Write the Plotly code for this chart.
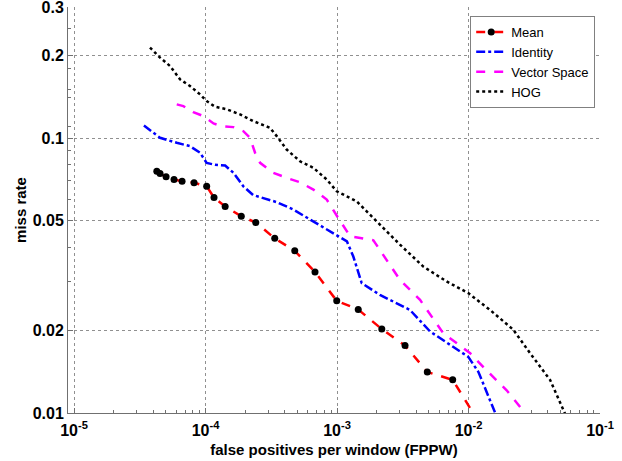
import plotly.graph_objects as go

# false positives per window / miss rate
mean_fppw = [4.26e-5, 4.51e-5, 5.01e-5, 5.76e-5, 6.63e-5, 8.18e-5, 1.02e-4, 1.16e-4, 1.41e-4,
             1.87e-4, 2.41e-4, 3.36e-4, 4.77e-4, 6.80e-4, 9.95e-4, 1.45e-3, 2.19e-3, 3.29e-3,
             4.86e-3, 7.58e-3, 1.22e-2]
mean_miss = [0.0758, 0.0743, 0.0723, 0.0707, 0.0697, 0.0688, 0.0668, 0.0608, 0.0564,
             0.0520, 0.0493, 0.0432, 0.0389, 0.0326, 0.0256, 0.0238, 0.0202, 0.0176,
             0.0141, 0.0132, 0.00912]

identity_fppw = [3.40e-5, 4.51e-5, 6.04e-5, 7.62e-5, 9.08e-5, 1.02e-4, 1.18e-4, 1.41e-4, 1.63e-4,
                 1.94e-4, 2.30e-4, 2.75e-4, 3.48e-4, 4.65e-4, 6.23e-4, 9.37e-4, 1.19e-3, 1.33e-3,
                 1.54e-3, 2.12e-3, 3.59e-3, 5.10e-3, 6.82e-3, 9.96e-3, 1.19e-2, 1.59e-2, 1.74e-2]
identity_miss = [0.1112, 0.1003, 0.0962, 0.0935, 0.0885, 0.0813, 0.0800, 0.0795, 0.0748,
                 0.0668, 0.0621, 0.0606, 0.0585, 0.0550, 0.0507, 0.0452, 0.0421, 0.0371,
                 0.0297, 0.0269, 0.0237, 0.0198, 0.0180, 0.0160, 0.0141, 0.0100, 0.00904]

vector_fppw = [6.04e-5, 6.78e-5, 8.07e-5, 9.62e-5, 1.15e-4, 1.33e-4, 1.63e-4, 1.94e-4, 2.18e-4,
               2.38e-4, 2.60e-4, 3.28e-4, 4.14e-4, 5.23e-4, 6.61e-4, 8.35e-4, 1.02e-3, 1.26e-3,
               1.89e-3, 2.25e-3, 3.01e-3, 4.28e-3, 6.43e-3, 1.03e-2, 1.37e-2, 1.95e-2, 2.69e-2,
               3.04e-2]
vector_miss = [0.1327, 0.1308, 0.1244, 0.1203, 0.1131, 0.1106, 0.1097, 0.1060, 0.1003,
               0.0885, 0.0813, 0.0748, 0.0717, 0.0691, 0.0650, 0.0598, 0.0513, 0.0439,
               0.0425, 0.0374, 0.0305, 0.0258, 0.0195, 0.0165, 0.0143, 0.0121, 0.0100,
               0.00904]

hog_fppw = [3.78e-5, 4.51e-5, 5.37e-5, 6.40e-5, 7.62e-5, 9.08e-5, 1.02e-4, 1.18e-4, 1.45e-4,
            1.83e-4, 2.31e-4, 3.09e-4, 3.48e-4, 4.14e-4, 5.23e-4, 6.61e-4, 8.35e-4, 9.95e-4,
            1.41e-3, 2.00e-3, 3.01e-3, 4.53e-3, 6.82e-3, 9.96e-3, 1.46e-2, 2.19e-2, 2.94e-2,
            4.17e-2, 5.42e-2, 5.92e-2]
hog_miss = [0.2136, 0.1964, 0.1830, 0.1637, 0.1547, 0.1443, 0.1364, 0.1302, 0.1273,
            0.1220, 0.1153, 0.1091, 0.1017, 0.0909, 0.0824, 0.0780, 0.0707, 0.0641,
            0.0589, 0.0497, 0.0410, 0.0341, 0.0301, 0.0273, 0.0237, 0.0201, 0.0165,
            0.0132, 0.0100, 0.00904]

x_ticks = [1e-5, 1e-4, 1e-3, 1e-2, 1e-1]
x_ticktext = ['10<sup>-5</sup>', '10<sup>-4</sup>', '10<sup>-3</sup>', '10<sup>-2</sup>', '10<sup>-1</sup>']
y_ticks = [0.01, 0.02, 0.05, 0.1, 0.2, 0.3]
y_ticktext = ['0.01', '0.02', '0.05', '0.1', '0.2', '0.3']

x_minor = [m * d for d in x_ticks[:-1] for m in range(2, 10)]
y_minor = [0.03, 0.04, 0.06, 0.07, 0.08, 0.09, 0.11, 0.14, 0.15, 0.18, 0.25]

fnt = 'Liberation Sans, Arial, sans-serif'

fig = go.Figure()
fig.add_trace(go.Scatter(x=mean_fppw, y=mean_miss, name='Mean', mode='lines+markers',
                         line=dict(color='#ff0000', width=2.5, dash='dash'),
                         marker=dict(color='black', size=7)))
fig.add_trace(go.Scatter(x=identity_fppw, y=identity_miss, name='Identity', mode='lines',
                         line=dict(color='#0000ff', width=2.5, dash='dashdot')))
fig.add_trace(go.Scatter(x=vector_fppw, y=vector_miss, name='Vector Space', mode='lines',
                         line=dict(color='#ff00ff', width=2.5, dash='dash')))
fig.add_trace(go.Scatter(x=hog_fppw, y=hog_miss, name='HOG', mode='lines',
                         line=dict(color='black', width=2.5, dash='dot')))

axis_common = dict(type='log', showgrid=True, gridcolor='#909090', griddash='dot', gridwidth=1,
                   zeroline=False, showline=True, linecolor='#707070', linewidth=1,
                   ticks='inside', ticklen=5, tickcolor='#707070', automargin=False,
                   ticklabeloverflow='allow',
                   tickfont=dict(family=fnt, size=16, color='black', weight='bold'),
                   title_font=dict(family=fnt, size=15, color='black', weight='bold'))

fig.update_xaxes(**axis_common, range=[-5.046, -1], tickvals=x_ticks, ticktext=x_ticktext,
                 ticklabelstandoff=3,
                 minor=dict(tickvals=x_minor, ticks='inside', ticklen=3, tickcolor='#707070', showgrid=False),
                 title_text='false positives per window (FPPW)', title_standoff=6)
fig.update_yaxes(**axis_common, range=[-2, -0.5228], tickvals=y_ticks, ticktext=y_ticktext,
                 minor=dict(tickvals=y_minor, ticks='inside', ticklen=3, tickcolor='#707070', showgrid=False),
                 title_text='miss rate', title_standoff=2)

fig.update_layout(width=622, height=461,
                  margin=dict(l=68, r=22, t=7, b=48),
                  plot_bgcolor='white', paper_bgcolor='white',
                  font=dict(family=fnt, color='black'),
                  legend=dict(x=0.756, y=0.978, xanchor='left', yanchor='top',
                              bgcolor='white', bordercolor='#808080', borderwidth=1,
                              font=dict(family=fnt, size=13, color='black'),
                              itemwidth=30, tracegroupgap=0))

# page body has a default 8px margin, drop it so the figure sits at the window corner
fig.write_html("out.html", config={'displayModeBar': False},
               post_script="document.body.style.margin='0';")
